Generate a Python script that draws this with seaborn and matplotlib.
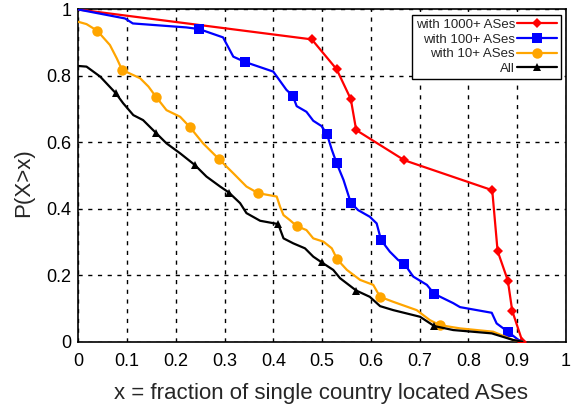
import matplotlib
matplotlib.use("Agg")
import matplotlib.pyplot as plt
import seaborn as sns
from matplotlib.lines import Line2D

# CCDF: fraction of single-country located ASes
x_1000 = [0, 0.479, 0.530, 0.559, 0.570, 0.669, 0.849, 0.860, 0.881, 0.890, 0.911]
y_1000 = [1, 0.910, 0.820, 0.730, 0.637, 0.546, 0.456, 0.273, 0.184, 0.093, 0.0]
mk_1000 = [1, 2, 3, 4, 5, 6, 7, 8, 9, 10]

x_100 = [0, 0.096, 0.112, 0.222, 0.248, 0.297, 0.318, 0.342, 0.400, 0.427,
         0.440, 0.448, 0.468, 0.482, 0.499, 0.510, 0.520, 0.530, 0.544, 0.559,
         0.574, 0.598, 0.612, 0.621, 0.639, 0.656, 0.669, 0.687, 0.715, 0.730,
         0.769, 0.783, 0.848, 0.858, 0.881, 0.903, 0.911]
y_100 = [1, 0.973, 0.958, 0.946, 0.941, 0.916, 0.858, 0.842, 0.813, 0.758,
         0.740, 0.709, 0.692, 0.665, 0.649, 0.625, 0.578, 0.537, 0.487, 0.418,
         0.396, 0.376, 0.356, 0.306, 0.271, 0.246, 0.234, 0.196, 0.171, 0.144,
         0.116, 0.104, 0.087, 0.055, 0.030, 0.005, 0.0]
mk_100 = [4, 7, 10, 15, 17, 19, 23, 26, 29, 34]

x_10 = [0, 0.017, 0.039, 0.065, 0.079, 0.090, 0.127, 0.144, 0.159, 0.181,
        0.209, 0.229, 0.256, 0.289, 0.318, 0.345, 0.369, 0.407, 0.414, 0.421,
        0.434, 0.448, 0.468, 0.482, 0.503, 0.520, 0.531, 0.551, 0.578, 0.605,
        0.619, 0.646, 0.694, 0.721, 0.741, 0.783, 0.851, 0.892, 0.911]
y_10 = [0.963, 0.956, 0.936, 0.893, 0.853, 0.818, 0.793, 0.768, 0.738, 0.697,
        0.677, 0.646, 0.597, 0.549, 0.507, 0.467, 0.447, 0.437, 0.406, 0.381,
        0.366, 0.348, 0.336, 0.311, 0.301, 0.281, 0.248, 0.216, 0.186, 0.171,
        0.135, 0.120, 0.095, 0.065, 0.050, 0.040, 0.030, 0.005, 0.0]
mk_10 = [2, 5, 8, 11, 13, 16, 21, 26, 30, 34]

x_all = [0, 0.017, 0.045, 0.077, 0.092, 0.113, 0.133, 0.159, 0.181, 0.209,
         0.239, 0.263, 0.291, 0.309, 0.332, 0.345, 0.373, 0.410, 0.421, 0.441,
         0.465, 0.482, 0.499, 0.523, 0.537, 0.570, 0.598, 0.619, 0.646, 0.701,
         0.730, 0.769, 0.848, 0.892, 0.911]
y_all = [0.830, 0.828, 0.798, 0.748, 0.718, 0.682, 0.667, 0.629, 0.597, 0.567,
         0.532, 0.497, 0.467, 0.449, 0.417, 0.387, 0.364, 0.354, 0.311, 0.296,
         0.281, 0.256, 0.239, 0.216, 0.191, 0.154, 0.135, 0.107, 0.095, 0.075,
         0.047, 0.035, 0.025, 0.005, 0.0]
mk_all = [3, 7, 10, 13, 17, 22, 25, 30]

labels = ["with 1000+ ASes", "with 100+ ASes", "with 10+ ASes", "All"]
ticks = [0, 0.1, 0.2, 0.3, 0.4, 0.5, 0.6, 0.7, 0.8, 0.9, 1]
tick_labels = ["0", "0.1", "0.2", "0.3", "0.4", "0.5", "0.6", "0.7", "0.8", "0.9", "1"]
yticks = [0, 0.2, 0.4, 0.6, 0.8, 1]
ytick_labels = ["0", "0.2", "0.4", "0.6", "0.8", "1"]

sns.set_style("white")
plt.rcParams["font.family"] = ["Liberation Sans", "DejaVu Sans"]

fig = plt.figure(figsize=(5.71, 4.09), dpi=100)
ax = fig.add_axes([0.137, 0.1646, 0.854, 0.8122])

series = [
    (x_1000, y_1000, mk_1000, "#ff0000", "D", 5.5),
    (x_100, y_100, mk_100, "#0000ff", "s", 7.3),
    (x_10, y_10, mk_10, "#ffa500", "o", 7.5),
    (x_all, y_all, mk_all, "#000000", "^", 6),
]

handles = []
for (xs, ys, mk, col, m, ms), lab in zip(series, labels):
    sns.lineplot(x=xs, y=ys, ax=ax, sort=False, estimator=None, color=col,
                 linewidth=1.6, marker=m, markersize=ms, markevery=mk,
                 markeredgewidth=0, zorder=3)
    handles.append(Line2D([0], [0], color=col, lw=1.6, marker=m,
                          markersize=ms, markeredgewidth=0))

ax.set_xlim(0, 1)
ax.set_ylim(0, 1)
ax.set_xticks(ticks)
ax.set_xticklabels(tick_labels)
ax.set_yticks(yticks)
ax.set_yticklabels(ytick_labels)
ax.tick_params(labelsize=13, length=0, colors="black")
ax.tick_params(axis="x", pad=8)
ax.tick_params(axis="y", pad=5)
ax.grid(True, color="black", linestyle=(0, (3, 4)), linewidth=1.0, zorder=1)
for s in ax.spines.values():
    s.set_color("black")
    s.set_linewidth(1.2)

ax.set_xlabel("x = fraction of single country located ASes", fontsize=16)
ax.set_ylabel("P(X>x)", fontsize=16)
ax.xaxis.set_label_coords(0.497, -0.125)
ax.yaxis.set_label_coords(-0.09, 0.479)

leg = ax.legend(handles, labels, loc="upper right", markerfirst=False,
                fontsize=9.5, frameon=True, fancybox=False, handlelength=3.0,
                borderaxespad=0.4, labelspacing=0.18, handletextpad=0.15,
                borderpad=0.3)
leg.get_frame().set_edgecolor("black")
leg.get_frame().set_linewidth(1.0)
leg.get_frame().set_alpha(1)

fig.savefig("out.png", dpi=100)
